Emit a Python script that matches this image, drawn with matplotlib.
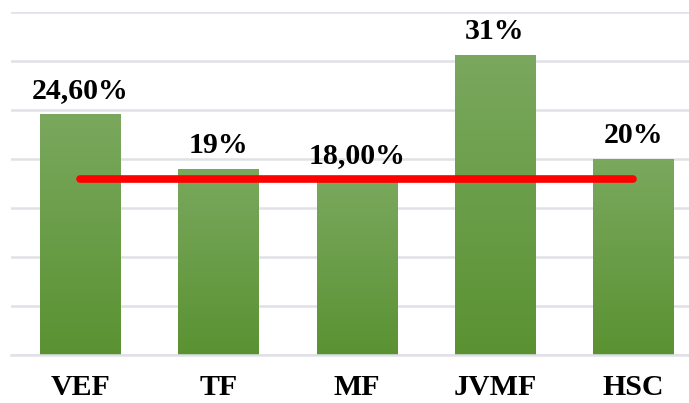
import numpy as np
import matplotlib
matplotlib.use("Agg")
import matplotlib.pyplot as plt
from matplotlib.colors import LinearSegmentedColormap

categories = ["VEF", "TF", "MF", "JVMF", "HSC"]
values = [24.6, 19.0, 18.0, 30.6, 20.0]
value_labels = ["24,60%", "19%", "18,00%", "31%", "20%"]
reference_level = 18.0

plt.rcParams["font.family"] = ["Liberation Serif", "DejaVu Serif"]

fig = plt.figure(figsize=(6.89, 4.03), dpi=100)
ax = fig.add_axes([11 / 689, 48 / 403, 1 - 11 / 689, 343 / 403])

x = np.arange(len(categories))
bars = ax.bar(x, values, width=0.58, color="none", zorder=2)

# vertical gradient inside each bar, lighter at the top
cmap = LinearSegmentedColormap.from_list("grn", ["#5a9232", "#7aa85e"])
grad = np.linspace(0, 1, 256).reshape(-1, 1)
for b in bars:
    x0, w, h = b.get_x(), b.get_width(), b.get_height()
    im = ax.imshow(grad, cmap=cmap, aspect="auto", origin="lower",
                   extent=[x0, x0 + w, 0, h], zorder=2)
    im.set_clip_path(b)

for xi, v, lab in zip(x, values, value_labels):
    ax.annotate(lab, (xi, v), xytext=(0, 7), textcoords="offset points",
                ha="center", va="bottom", fontsize=21.5, fontweight="bold")

ax.plot([x[0], x[-1]], [reference_level, reference_level], color="#ff0000",
        lw=5.5, solid_capstyle="round", zorder=3)

ax.set_xlim(-0.5, 4.403)
ax.set_ylim(0, 35)
ax.set_yticks(np.arange(0, 36, 5))
ax.yaxis.grid(True, color="#dfe1e6", lw=1.8, zorder=0)
ax.set_axisbelow(True)
ax.tick_params(axis="y", left=False, labelleft=False)
ax.tick_params(axis="x", length=0, pad=14)
ax.set_xticks(x)
ax.set_xticklabels(categories, fontsize=21.5, fontweight="bold")
for s in ["top", "right", "left"]:
    ax.spines[s].set_visible(False)
ax.spines["bottom"].set_color("#dfe1e6")
ax.spines["bottom"].set_linewidth(1.8)

fig.savefig("out.png", dpi=100)
